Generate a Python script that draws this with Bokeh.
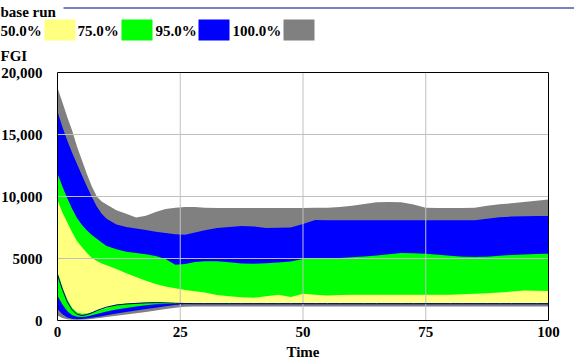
from bokeh.plotting import figure
from bokeh.models import Range1d, FixedTicker
from bokeh.core.properties import value
from bokeh.embed import file_html
from bokeh.resources import INLINE

# ---- data ----
time = [0, 1, 2, 3, 4, 5, 6, 7, 8, 9, 10, 12, 14, 16, 18, 20, 22, 24, 26, 28, 30,
        32.5, 35, 37.5, 40, 42.5, 45, 47.5, 50, 52.5, 55, 57.5, 60, 62.5, 65, 67.5,
        70, 72.5, 75, 77.5, 80, 82.5, 85, 87.5, 90, 92.5, 95, 97.5, 100]

p_max = [18750, 17600, 16400, 15300, 14000, 12900, 11800, 10800, 10000, 9600, 9350,
         8900, 8600, 8300, 8450, 8750, 9000, 9100, 9150, 9150, 9100,
         9075, 9075, 9075, 9075, 9075, 9075, 9075, 9075, 9100, 9100, 9150, 9250, 9400,
         9530, 9560, 9530, 9350, 9100, 9075, 9075, 9075, 9100, 9250, 9370, 9450, 9550,
         9650, 9750]
p_975 = [16830, 15600, 14500, 13500, 12600, 11700, 10800, 9950, 9200, 8600, 8200,
         7750, 7550, 7420, 7300, 7150, 7050, 6950, 6920, 7100, 7270,
         7450, 7550, 7620, 7580, 7460, 7470, 7500, 7780, 8100, 8080, 8080, 8080, 8080,
         8080, 8080, 8080, 8080, 8080, 8080, 8080, 8080, 8080, 8200, 8330, 8380, 8400,
         8420, 8430]
p_875 = [11850, 10800, 9850, 9000, 8250, 7700, 7250, 6900, 6600, 6300, 6000,
         5750, 5550, 5450, 5350, 5200, 4950, 4500, 4550, 4710, 4780,
         4780, 4700, 4600, 4580, 4620, 4680, 4750, 4950, 5000, 5020, 5050, 5100, 5160,
         5250, 5350, 5440, 5420, 5390, 5300, 5220, 5150, 5120, 5150, 5220, 5290, 5320,
         5360, 5390]
p_75 = [9700, 8700, 7900, 7100, 6400, 5900, 5450, 5050, 4800, 4600, 4450,
        4150, 3820, 3500, 3200, 2950, 2750, 2600, 2450, 2350, 2250,
        2050, 1950, 1880, 1830, 1950, 2070, 1900, 2150, 2080, 2020, 2050, 2070, 2070,
        2080, 2070, 2070, 2070, 2070, 2070, 2080, 2120, 2150, 2200, 2250, 2330, 2420,
        2400, 2370]
p_25 = [3900, 2700, 1700, 1000, 650, 550, 560, 650, 780, 900, 1000,
        1300, 1380, 1420, 1460, 1470, 1450, 1420, 1410, 1400, 1400,
        1400, 1400, 1400, 1400, 1400, 1400, 1400, 1400, 1400, 1400, 1400, 1400, 1400,
        1400, 1400, 1400, 1400, 1400, 1400, 1400, 1400, 1400, 1400, 1400, 1400, 1400,
        1400, 1400]
p_125 = [2000, 1300, 750, 420, 300, 280, 330, 420, 520, 620, 720,
         880, 1000, 1120, 1230, 1320, 1330, 1330, 1330, 1330, 1330,
         1330, 1330, 1330, 1330, 1330, 1330, 1330, 1330, 1330, 1330, 1330, 1330, 1330,
         1330, 1330, 1330, 1330, 1330, 1330, 1330, 1330, 1330, 1330, 1330, 1330, 1330,
         1330, 1330]
p_025 = [900, 500, 250, 150, 120, 130, 170, 230, 290, 350, 420,
         560, 680, 800, 920, 1030, 1150, 1250, 1310, 1310, 1310,
         1310, 1310, 1310, 1310, 1310, 1310, 1310, 1310, 1310, 1310, 1310, 1310, 1310,
         1310, 1310, 1310, 1310, 1310, 1310, 1310, 1310, 1310, 1310, 1310, 1310, 1310,
         1310, 1310]
p_min = [400, 200, 100, 60, 50, 60, 90, 130, 180, 230, 280,
         380, 480, 580, 680, 800, 920, 1030, 1100, 1120, 1120,
         1120, 1120, 1120, 1120, 1120, 1120, 1120, 1120, 1120, 1120, 1120, 1120, 1120,
         1120, 1120, 1120, 1120, 1120, 1120, 1120, 1120, 1120, 1120, 1120, 1120, 1120,
         1120, 1120]
base_run = [3700, 2500, 1500, 850, 500, 400, 480, 620, 800, 950, 1080,
            1250, 1330, 1380, 1420, 1440, 1420, 1390, 1370, 1360, 1360,
            1360, 1360, 1360, 1360, 1360, 1360, 1360, 1360, 1360, 1360, 1360, 1360, 1360,
            1360, 1360, 1360, 1360, 1360, 1360, 1360, 1360, 1360, 1360, 1360, 1360, 1360,
            1360, 1360]

legend_labels = ["50.0%", "75.0%", "95.0%", "100.0%"]
band_colors = ["#FFFF80", "#00FF00", "#0000FF", "#808080"]
base_color = "#000080"
x_ticks = [0, 25, 50, 75, 100]
y_ticks = [0, 5000, 10000, 15000, 20000]
y_tick_labels = ["0", "5000", "10,000", "15,000", "20,000"]
x_min, x_max = 0, 100
y_min, y_max = 0, 20000
y_axis_title = "FGI"
x_axis_title = "Time"
base_label = "base run"

# ---- layout in pixels: the frame is the whole canvas ----
W, H = 574, 363
PL, PR, PT, PB = 57, 548, 72, 320          # plot-area box, in pixels
FONT = "Liberation Serif"
FS = "15px"

sx_per = (PR - PL) / (x_max - x_min)
sy_per = (PB - PT) / (y_max - y_min)
x_start = x_min - PL / sx_per
x_end = x_max + (W - PR) / sx_per
y_start = y_min - (H - PB) / sy_per
y_end = y_max + PT / sy_per


def px(xp):
    return x_start + xp / sx_per


def py(yp):
    return y_end - yp / sy_per


p = figure(frame_width=W, frame_height=H,
           min_border=0, min_border_left=0, min_border_right=0,
           min_border_top=0, min_border_bottom=0,
           x_range=Range1d(x_start, x_end), y_range=Range1d(y_start, y_end),
           output_backend="svg", toolbar_location=None)
p.background_fill_color = "white"
p.border_fill_color = "white"
p.outline_line_color = None
p.grid.visible = False

# bands: 100% (min-max), 95%, 75%, 50%
p.varea(x=time, y1=p_min, y2=p_max, fill_color=band_colors[3])
p.varea(x=time, y1=p_025, y2=p_975, fill_color=band_colors[2])
p.varea(x=time, y1=p_125, y2=p_875, fill_color=band_colors[1])
p.varea(x=time, y1=p_25, y2=p_75, fill_color=band_colors[0])

# grid lines at the inner ticks
gx = x_ticks[1:-1]
gy = y_ticks[1:-1]
p.segment(x0=gx, y0=[y_min] * len(gx), x1=gx, y1=[y_max] * len(gx),
          line_color="#C0C0C0", line_width=1)
p.segment(x0=[x_min] * len(gy), y0=gy, x1=[x_max] * len(gy), y1=gy,
          line_color="#C0C0C0", line_width=1)

p.line(x=time, y=base_run, line_color=base_color, line_width=1)

# plot-area border
p.quad(left=[x_min], right=[x_max], bottom=[y_min], top=[y_max],
       fill_color=None, line_color="black", line_width=1)

# axes fixed at the plot-area edges
for ax in (p.xaxis[0], p.yaxis[0]):
    ax.fixed_location = 0
    ax.axis_line_color = None
    ax.major_tick_line_color = None
    ax.minor_tick_line_color = None
    ax.major_tick_out = 0
    ax.major_tick_in = 0
    ax.minor_tick_out = 0
    ax.minor_tick_in = 0
    ax.major_label_text_font = FONT
    ax.major_label_text_font_style = "bold"
    ax.major_label_text_font_size = FS
    ax.major_label_text_color = "black"

p.xaxis.ticker = FixedTicker(ticks=x_ticks)
p.yaxis.ticker = FixedTicker(ticks=y_ticks)
p.xaxis.bounds = (x_min, x_max)
p.yaxis.bounds = (y_min, y_max)
p.yaxis.major_label_overrides = {t: s for t, s in zip(y_ticks, y_tick_labels)}
p.xaxis.major_label_standoff = 6
p.yaxis.major_label_standoff = 15

p.xaxis.axis_label = x_axis_title
p.xaxis.axis_label_text_font = FONT
p.xaxis.axis_label_text_font_style = "bold"
p.xaxis.axis_label_text_font_size = FS
p.xaxis.axis_label_text_color = "black"
p.xaxis.axis_label_standoff = 4

# header: base-run key, band legend and the variable name
text_style = dict(text_font=value(FONT), text_font_style="bold",
                  text_font_size=FS, text_color="black",
                  text_baseline="alphabetic", text_align="left")
p.text(x=[px(0)], y=[py(11)], text=[base_label], **text_style)
p.segment(x0=[px(63)], y0=[py(7.5)], x1=[px(W)], y1=[py(7.5)],
          line_color=base_color, line_width=1)

text_xp = [0, 77, 155, 232]
box_xp = [44, 121, 198, 283]
p.text(x=[px(v) for v in text_xp], y=[py(30)] * 4, text=legend_labels, **text_style)
p.quad(left=[px(b) for b in box_xp], right=[px(b + 31) for b in box_xp],
       top=[py(19)] * 4, bottom=[py(40)] * 4,
       fill_color=band_colors, line_color=None)
p.text(x=[px(0)], y=[py(55)], text=[y_axis_title], **text_style)

open("out.html", "w").write(file_html(p, INLINE))
